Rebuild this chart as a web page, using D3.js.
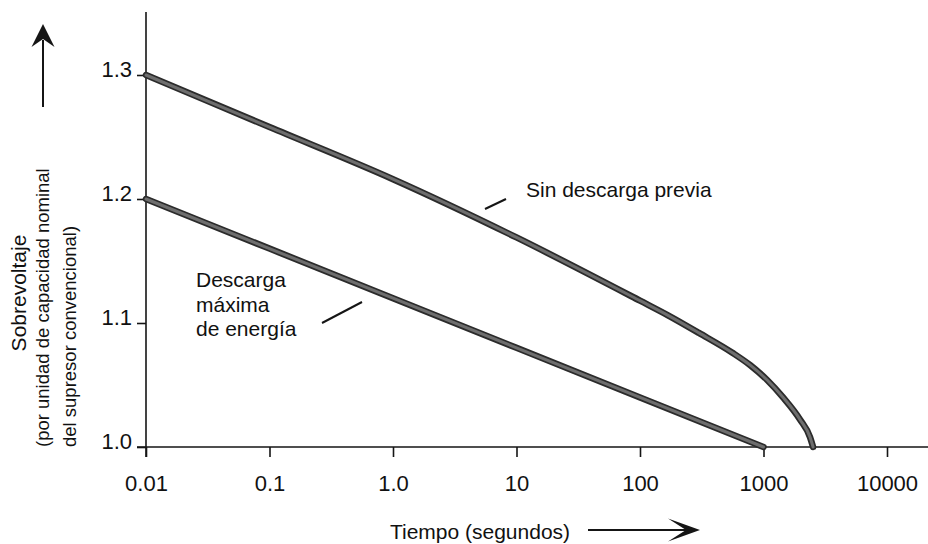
<!DOCTYPE html>
<html>
<head>
<meta charset="utf-8">
<script src="https://cdn.jsdelivr.net/npm/d3@7/dist/d3.min.js"></script>
<style>
  html, body { margin: 0; padding: 0; background: #fff; }
  svg { display: block; }
  text { font-family: "Liberation Sans", Arial, Helvetica, sans-serif; fill: #111; }
</style>
</head>
<body>
<script>
// Time axis (seconds, log scale) and overvoltage axis (per unit)
const xTicks = [0.01, 0.1, 1, 10, 100, 1000, 10000];
const xTickLabels = ["0.01", "0.1", "1.0", "10", "100", "1000", "10000"];
const yTicks = [1.0, 1.1, 1.2, 1.3];
const yTickLabels = ["1.0", "1.1", "1.2", "1.3"];

// Curve: no prior discharge
const sinTiempo = [0.01, 0.1, 1, 10, 100, 170, 300, 560, 780, 1070, 1440, 1980, 2380, 2520];
const sinValor  = [1.30, 1.258, 1.216, 1.169, 1.118, 1.106, 1.092, 1.076, 1.066, 1.054, 1.040, 1.022, 1.008, 1.0];

// Curve: maximum energy discharge
const maxTiempo = [0.01, 0.1, 1, 10, 100, 1000];
const maxValor  = [1.20, 1.16, 1.12, 1.08, 1.04, 1.0];

const W = 928, H = 544;
const svg = d3.select("body").append("svg").attr("width", W).attr("height", H);

const x = d3.scaleLog().domain([0.01, 10000]).range([146, 887]);
const y = d3.scaleLinear().domain([1.0, 1.3]).range([447, 75]);

const ink = "#151515";

// Axis lines
svg.append("line")
  .attr("x1", x(0.01)).attr("x2", x(0.01))
  .attr("y1", 12).attr("y2", y(1.0) + 10)
  .attr("stroke", ink).attr("stroke-width", 1.6);
svg.append("line")
  .attr("x1", x(0.01) - 9).attr("x2", W)
  .attr("y1", y(1.0)).attr("y2", y(1.0))
  .attr("stroke", ink).attr("stroke-width", 1.6);

// Bottom axis ticks and labels
const xAxis = d3.axisBottom(x)
  .tickValues(xTicks)
  .tickFormat((d, i) => xTickLabels[i])
  .tickSizeInner(10).tickSizeOuter(0).tickPadding(18);
const gx = svg.append("g").attr("transform", `translate(0,${y(1.0)})`).call(xAxis);
gx.select(".domain").remove();
gx.selectAll(".tick line").attr("stroke", ink).attr("stroke-width", 1.6);
gx.selectAll(".tick text").attr("font-size", 22).attr("fill", ink)
  .style("font-family", '"Liberation Sans", Arial, sans-serif');

// Left axis ticks and labels
const yAxis = d3.axisLeft(y)
  .tickValues(yTicks)
  .tickFormat((d, i) => yTickLabels[i])
  .tickSizeInner(9).tickSizeOuter(0).tickPadding(5);
const gy = svg.append("g").attr("transform", `translate(${x(0.01)},0)`).call(yAxis);
gy.select(".domain").remove();
gy.selectAll(".tick line").attr("stroke", ink).attr("stroke-width", 1.6);
gy.selectAll(".tick text").attr("font-size", 22).attr("fill", ink).attr("dy", "0.05em")
  .style("font-family", '"Liberation Sans", Arial, sans-serif');

// Curves drawn as a dark outline with a grey core
function drawCurve(ts, vs, curve) {
  const pts = ts.map((t, i) => [t, vs[i]]);
  const line = d3.line().x(d => x(d[0])).y(d => y(d[1])).curve(curve);
  svg.append("path").attr("d", line(pts))
    .attr("fill", "none").attr("stroke", "#2b2b2b").attr("stroke-width", 6.5)
    .attr("stroke-linecap", "round").attr("stroke-linejoin", "round");
  svg.append("path").attr("d", line(pts))
    .attr("fill", "none").attr("stroke", "#6e6e6e").attr("stroke-width", 3)
    .attr("stroke-linecap", "round").attr("stroke-linejoin", "round");
}
drawCurve(sinTiempo, sinValor, d3.curveMonotoneX);
drawCurve(maxTiempo, maxValor, d3.curveLinear);

// Curve labels with leader lines
svg.append("text").attr("x", 526).attr("y", 197).attr("font-size", 21)
  .text("Sin descarga previa");
svg.append("line").attr("x1", 485).attr("y1", 209).attr("x2", 506).attr("y2", 199)
  .attr("stroke", ink).attr("stroke-width", 2);

const desc = svg.append("text").attr("x", 196).attr("y", 287).attr("font-size", 21);
["Descarga", "máxima", "de energía"].forEach((s, i) => {
  desc.append("tspan").attr("x", 196).attr("dy", i === 0 ? 0 : 24.5).text(s);
});
svg.append("line").attr("x1", 322).attr("y1", 323).attr("x2", 362).attr("y2", 302)
  .attr("stroke", ink).attr("stroke-width", 2);

// Axis titles
svg.append("text").attr("x", 480).attr("y", 539).attr("font-size", 21)
  .attr("text-anchor", "middle").text("Tiempo (segundos)");
svg.append("line").attr("x1", 588).attr("y1", 530).attr("x2", 692).attr("y2", 530)
  .attr("stroke", ink).attr("stroke-width", 2);
svg.append("path").attr("d", "M700,530 L668,518.5 L686,530 L668,541.5 Z")
  .attr("fill", ink);

svg.append("text").attr("font-size", 21).attr("text-anchor", "middle")
  .attr("transform", "translate(26,293) rotate(-90)").text("Sobrevoltaje");
svg.append("text").attr("font-size", 18.5).attr("text-anchor", "start")
  .attr("transform", "translate(49,447) rotate(-90)").text("(por unidad de capacidad nominal");
svg.append("text").attr("font-size", 18.5).attr("text-anchor", "start")
  .attr("transform", "translate(76,447) rotate(-90)").text("del supresor convencional)");

// Upward arrow beside the vertical title
svg.append("line").attr("x1", 43).attr("y1", 107).attr("x2", 43).attr("y2", 40)
  .attr("stroke", ink).attr("stroke-width", 2);
svg.append("path").attr("d", "M43,24 L31.5,47 L43,39 L54.5,47 Z").attr("fill", ink);
</script>
</body>
</html>
